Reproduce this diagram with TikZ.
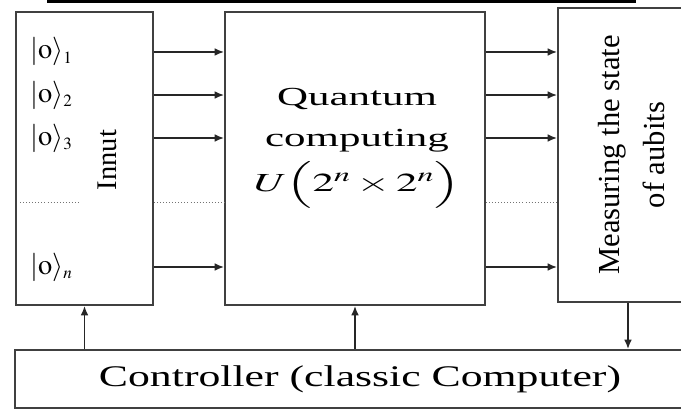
\documentclass[tikz,border=0pt]{standalone}
\usepackage{mathptmx}
\usepackage{fontspec}
\setmainfont{Liberation Serif}
\usepackage{tikz}
\usetikzlibrary{arrows.meta,positioning,calc}
\tikzset{
  blk/.style={draw=black!75, line width=1.5pt, inner sep=0pt},
  link/.style={-{Latex[length=3.2mm,width=2.6mm]}, line width=1.7pt, draw=black!85},
  dots/.style={dotted, line width=0.9pt, draw=black!55},
  ket/.style={anchor=west, inner sep=0pt, font=\fontsize{27}{32}\selectfont},
  vlab/.style={rotate=90, align=center, inner sep=0pt},
  hlab/.style={align=center, inner sep=0pt, transform shape}
}

\begin{document}
\begin{tikzpicture}[x=1cm,y=1cm]
  \useasboundingbox (0,0) rectangle (22.7,13.7);
  \clip (0,0) rectangle (22.7,13.7);
  \fill[black] (1.567,13.6) rectangle (21.2,13.75);

  % blocks
  \node[blk, minimum width=4.567cm, minimum height=9.767cm] (in) at (2.817,8.417) {};
  \node[blk, minimum width=8.667cm, minimum height=9.767cm] (qc) at (11.833,8.417) {};
  \node[blk, minimum width=4.667cm, minimum height=9.8cm] (ms) at (20.933,8.533) {};
  \node[blk, minimum width=23cm, minimum height=1.933cm] (ctrl) at (12,1.067) {};

  % labels
  \node[ket] (k1) at (1.0,11.967) {$|\mathrm{o}\rangle_{\scriptscriptstyle 1}$};
  \node[ket] (k2) at (1.0,10.533) {$|\mathrm{o}\rangle_{\scriptscriptstyle 2}$};
  \node[ket] (k3) at (1.0,9.1) {$|\mathrm{o}\rangle_{\scriptscriptstyle 3}$};
  \node[ket] (kn) at (1.0,4.8) {$|\mathrm{o}\rangle_{\scriptscriptstyle n}$};
  \node[vlab, font=\fontsize{27}{32}\selectfont] (inlab) at (3.567,8.367) {Innut};
  \node[hlab, xscale=1.65, font=\fontsize{24.7}{38}\selectfont] (qclab) at (11.9,8.75)
    {Quantum\\computing\\[5pt]$U\Big(2^n\times 2^n\Big)$};
  \node[vlab, font=\fontsize{29}{42}\selectfont] (mslab) at (21.05,8.533)
    {Measuring the state\\of aubits};
  \node[hlab, xscale=1.46, font=\fontsize{28.4}{34}\selectfont] (ctrllab) at (ctrl.center)
    {Controller (classic Computer)};

  % qubit lines
  \foreach \r in {11.967,10.533,9.1,4.8} {
    \draw[link] (in.east |- 0,\r) -- (qc.west |- 0,\r);
    \draw[link] (qc.east |- 0,\r) -- (ms.west |- 0,\r);
  }
  \draw[dots] (0.667,6.967) -- (2.667,6.967);
  \draw[dots] (in.east |- 0,6.967) -- (qc.west |- 0,6.967);
  \draw[dots] (qc.east |- 0,6.967) -- (ms.west |- 0,6.967);

  % control
  \draw[link] (ctrl.north -| in.south) -- (in.south);
  \draw[link] (ctrl.north -| qc.south) -- (qc.south);
  \draw[link] (ms.south) -- (ms.south |- ctrl.north);
\end{tikzpicture}
\end{document}
